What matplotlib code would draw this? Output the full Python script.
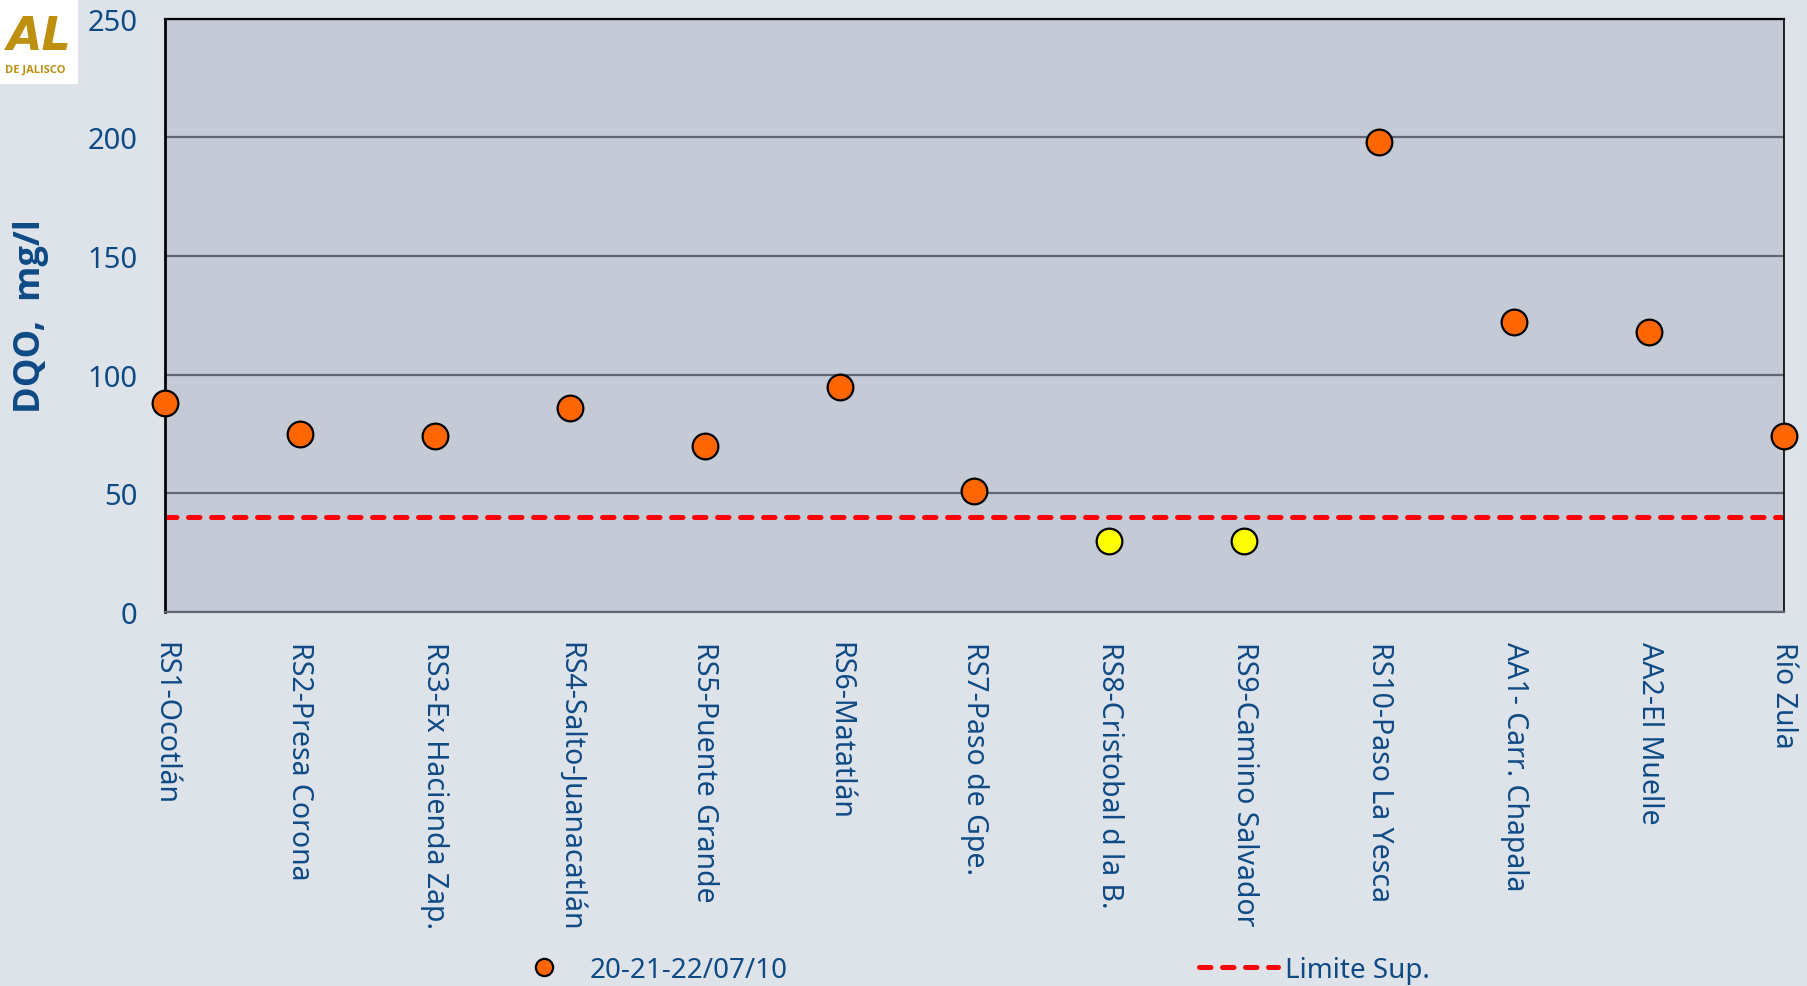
import matplotlib
matplotlib.use("Agg")
import matplotlib.pyplot as plt
from matplotlib.patches import Rectangle
from matplotlib.lines import Line2D

# ---------------- data ----------------
sites = ["RS1-Ocotlán", "RS2-Presa Corona", "RS3-Ex Hacienda Zap.",
         "RS4-Salto-Juanacatlán", "RS5-Puente Grande", "RS6-Matatlán",
         "RS7-Paso de Gpe.", "RS8-Cristobal d la B.", "RS9-Camino Salvador",
         "RS10-Paso La Yesca", "AA1- Carr. Chapala", "AA2-El Muelle", "Río Zula"]
dqo = [88, 75, 74, 86, 70, 95, 51, 30, 30, 198, 122, 118, 74]
below_limit = [False, False, False, False, False, False, False, True, True,
               False, False, False, False]
limit_value = 40
y_ticks = [0, 50, 100, 150, 200, 250]
series_label = "20-21-22/07/10"
limit_label = "Limite Sup."
y_label = "DQO,  mg/l"

# ---------------- style ----------------
W, H, DPI = 1807, 987, 100
fig_bg = "#DEE3EA"
ax_bg = "#C4CBD7"
grid_c = "#5F6675"
txt_c = "#0E4A84"
orange = "#FF6600"
yellow = "#FFFF00"
font = ["Noto Sans", "DejaVu Sans"]
bold_font = ["Open Sans", "DejaVu Sans"]
plt.rcParams["font.family"] = font

fig = plt.figure(figsize=(W / DPI, H / DPI), dpi=DPI, facecolor=fig_bg)
left, right, bottom, top = 165, 1784, 613, 19.6
ax = fig.add_axes([left / W, 1 - bottom / H, (right - left) / W, (bottom - top) / H])
ax.set_facecolor(ax_bg)

x = list(range(len(sites)))
ax.set_xlim(0, len(sites) - 1)
ax.set_ylim(0, 250)

# gridlines
ax.set_yticks(y_ticks)
ax.yaxis.grid(True, color=grid_c, lw=1.6, zorder=1)
ax.set_axisbelow(True)

# limit line
dash_line = ax.axhline(limit_value, color="#FF0000", lw=3.6, zorder=2,
                       dash_capstyle="round")
dash_line.set_dashes((2.3, 2.3))

# points
for xi, v, b in zip(x, dqo, below_limit):
    ax.plot(xi, v, marker="o", ls="none", ms=18.5, mfc=yellow if b else orange,
            mec="black", mew=1.6, zorder=5, clip_on=False)

# spines
for s in ["left", "top", "right"]:
    ax.spines[s].set_color("black")
ax.spines["left"].set_linewidth(2.0)
ax.spines["top"].set_linewidth(1.6)
ax.spines["right"].set_linewidth(1.2)
ax.spines["bottom"].set_color(grid_c)
ax.spines["bottom"].set_linewidth(1.6)

# ticks
ax.set_xticks(x)
ax.set_xticklabels(sites, rotation=-90, ha="center", va="top",
                   fontsize=20.5, color=txt_c)
ax.set_yticklabels([str(t) for t in y_ticks], fontsize=21, color=txt_c)
ax.tick_params(axis="both", length=0)
ax.tick_params(axis="x", pad=21)
ax.tick_params(axis="y", pad=20)

# y label
fig.text(31 / W, 1 - 316 / H, y_label, rotation=90, ha="center", va="center",
         fontsize=26, fontweight="bold", color=txt_c, family=bold_font)

# legends
fs_leg = 20
h1 = Line2D([], [], marker="o", ls="none", ms=18.5, mfc=orange, mec="black", mew=1.6)
leg1 = fig.legend([h1], [series_label], loc="center left",
                  bbox_to_anchor=(530 / W, 1 - 971 / H), frameon=False,
                  fontsize=fs_leg, handlelength=1.0, handletextpad=1.155,
                  borderpad=0, borderaxespad=0, markerscale=0.67,
                  labelcolor=txt_c)
h2 = Line2D([], [], color="#FF0000", lw=3.6, dash_capstyle="round")
h2.set_dashes((2.3, 2.3))
leg2 = fig.legend([h2], [limit_label], loc="center left",
                  bbox_to_anchor=(1199 / W, 1 - 971 / H), frameon=False,
                  fontsize=fs_leg, handlelength=2.84, handletextpad=0.25,
                  borderpad=0, borderaxespad=0, labelcolor=txt_c)

# logo (white box in the corner)
gold = "#BE9010"
fig.patches.append(Rectangle((0, 1 - 85 / H), 78 / W, 85 / H, transform=fig.transFigure,
                             facecolor="white", edgecolor="none", zorder=0))
fig.text(72 / W, 1 - 50 / H, "AL", ha="right", va="baseline", fontsize=33,
         fontweight="bold", fontstyle="italic", color=gold,
         family=["DejaVu Sans"])
fig.text(35 / W, 1 - 70 / H, "DE JALISCO", ha="center", va="center", fontsize=8,
         fontweight="bold", color=gold, family=bold_font)

fig.savefig("out.png", dpi=DPI, facecolor=fig_bg)
